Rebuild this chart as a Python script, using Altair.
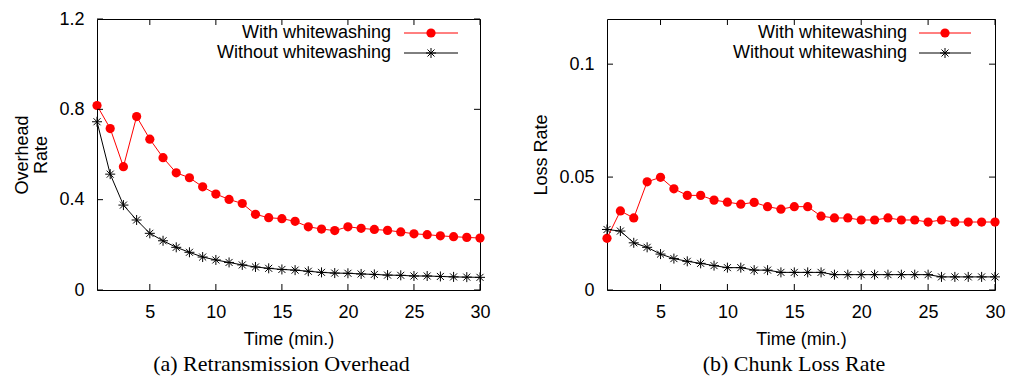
import altair as alt
import pandas as pd

# ---------------- data ----------------
time_min = list(range(1, 31))

overhead_with = [0.817, 0.715, 0.546, 0.768, 0.668, 0.586, 0.519, 0.497, 0.457, 0.425,
                 0.401, 0.383, 0.335, 0.320, 0.316, 0.304, 0.280, 0.270, 0.263, 0.280,
                 0.273, 0.268, 0.264, 0.257, 0.249, 0.245, 0.240, 0.236, 0.233, 0.230]
overhead_without = [0.745, 0.513, 0.376, 0.310, 0.251, 0.218, 0.189, 0.167, 0.146, 0.133,
                    0.122, 0.111, 0.102, 0.096, 0.091, 0.088, 0.083, 0.078, 0.075, 0.074,
                    0.071, 0.069, 0.066, 0.065, 0.062, 0.062, 0.060, 0.058, 0.057, 0.056]

loss_with = [0.0229, 0.0350, 0.0319, 0.0479, 0.0499, 0.0448, 0.0419, 0.0419, 0.0398, 0.0389,
             0.0380, 0.0388, 0.0369, 0.0358, 0.0369, 0.0369, 0.0327, 0.0319, 0.0319, 0.0310,
             0.0310, 0.0319, 0.0310, 0.0310, 0.0301, 0.0310, 0.0301, 0.0301, 0.0301, 0.0301]
loss_without = [0.0268, 0.0261, 0.0209, 0.0189, 0.0159, 0.0139, 0.0127, 0.0118, 0.0108, 0.0099,
                0.0099, 0.0088, 0.0088, 0.0078, 0.0078, 0.0078, 0.0078, 0.0068, 0.0068, 0.0068,
                0.0068, 0.0068, 0.0068, 0.0068, 0.0068, 0.0058, 0.0058, 0.0058, 0.0058, 0.0058]

x_ticks = [5, 10, 15, 20, 25, 30]
overhead_ticks = [0, 0.4, 0.8, 1.2]
loss_ticks = [0, 0.05, 0.1]

series_with = "With whitewashing"
series_without = "Without whitewashing"

STAR = "M-1,0L1,0M0,-1L0,1M-0.7,-0.7L0.7,0.7M-0.7,0.7L0.7,-0.7"
SANS = "Liberation Sans"
SERIF = "Liberation Serif"
DOT = 85
STAR_SIZE = 100


def panel(v_with, v_without, ymax, yticks, ytitle, caption, W, H,
          leg_text_x, leg_x1, leg_x2, leg_mark_x, cap_dx):
    df = pd.DataFrame({"t": time_min, "w": v_with, "wo": v_without})
    xs = alt.Scale(domain=[1, 30], nice=False, zero=False)
    ys = alt.Scale(domain=[0, ymax], nice=False)

    x_axis = alt.Axis(values=x_ticks, ticks=False, domain=False, grid=False,
                      labelPadding=13, title="Time (min.)", titlePadding=9,
                      labelFlush=False, labelOverlap=False, format="~g")
    y_axis = alt.Axis(values=yticks, ticks=False, domain=False, grid=False,
                      labelPadding=13, title=ytitle, titlePadding=8,
                      labelFlush=False, labelOverlap=False, format="~g")

    def X(f):
        return alt.X(f, type="quantitative", scale=xs, axis=x_axis)

    def Y(f):
        return alt.Y(f, type="quantitative", scale=ys, axis=y_axis)

    base = alt.Chart(df)
    red_line = base.mark_line(color="#ff0000", strokeWidth=1).encode(x=X("t"), y=Y("w"))
    red_pts = base.mark_point(shape="circle", filled=True, size=DOT, color="#ff0000",
                              opacity=1).encode(x=X("t"), y=Y("w"))
    blk_line = base.mark_line(color="black", strokeWidth=1).encode(x=X("t"), y=Y("wo"))
    blk_pts = base.mark_point(shape=STAR, filled=False, size=STAR_SIZE, color="black",
                              strokeWidth=1, opacity=1).encode(x=X("t"), y=Y("wo"))

    xt = alt.Chart(pd.DataFrame({"t": x_ticks}))
    yt = alt.Chart(pd.DataFrame({"w": yticks}))
    tick_len = 6
    ticks = [
        xt.mark_rule(color="black", strokeWidth=1).encode(
            x=X("t"), y=alt.value(H), y2=alt.value(H - tick_len)),
        xt.mark_rule(color="black", strokeWidth=1).encode(
            x=X("t"), y=alt.value(0), y2=alt.value(tick_len)),
        yt.mark_rule(color="black", strokeWidth=1).encode(
            y=Y("w"), x=alt.value(0), x2=alt.value(tick_len)),
        yt.mark_rule(color="black", strokeWidth=1).encode(
            y=Y("w"), x=alt.value(W - tick_len), x2=alt.value(W)),
    ]

    one = alt.Chart(pd.DataFrame({"a": [0]}))
    r1, r2 = 14, 34
    legend = [
        one.mark_text(text=series_with, align="right", baseline="middle", font=SANS,
                      fontSize=18, color="black").encode(x=alt.value(leg_text_x), y=alt.value(r1)),
        one.mark_rule(color="#ff0000", strokeWidth=1).encode(
            x=alt.value(leg_x1), x2=alt.value(leg_x2), y=alt.value(r1)),
        one.mark_point(shape="circle", filled=True, size=DOT, color="#ff0000", opacity=1).encode(
            x=alt.value(leg_mark_x), y=alt.value(r1)),
        one.mark_text(text=series_without, align="right", baseline="middle", font=SANS,
                      fontSize=18, color="black").encode(x=alt.value(leg_text_x), y=alt.value(r2)),
        one.mark_rule(color="black", strokeWidth=1).encode(
            x=alt.value(leg_x1), x2=alt.value(leg_x2), y=alt.value(r2)),
        one.mark_point(shape=STAR, filled=False, size=STAR_SIZE, color="black", strokeWidth=1,
                       opacity=1).encode(x=alt.value(leg_mark_x), y=alt.value(r2)),
    ]

    return alt.layer(red_line, blk_line, red_pts, blk_pts, *ticks, *legend).properties(
        width=W, height=H,
        title=alt.TitleParams(caption, orient="bottom", font=SERIF, fontSize=22,
                              fontWeight="normal", color="black", anchor="middle",
                              frame="group", offset=6, dx=cap_dx))


left = panel(overhead_with, overhead_without, 1.2, overhead_ticks, ["Overhead", "Rate"],
             "(a) Retransmission Overhead", 383, 271, 294, 307, 361, 334, -7)
right = panel(loss_with, loss_without, 0.12, loss_ticks, "Loss Rate",
              "(b) Chunk Loss Rate", 388, 271, 300, 312, 364, 338, -7)

chart = alt.hconcat(left, right, spacing=127, bounds="flush").properties(
    padding={"left": 13, "top": 9, "right": 0, "bottom": 0},
    background="white",
).configure_view(stroke="black", strokeWidth=1).configure_axis(
    labelFont=SANS, labelFontSize=18, labelColor="black",
    titleFont=SANS, titleFontSize=18, titleFontWeight="normal", titleColor="black",
    titleLineHeight=19,
)

chart.save("out.html", embed_options={"renderer": "svg", "actions": False})
